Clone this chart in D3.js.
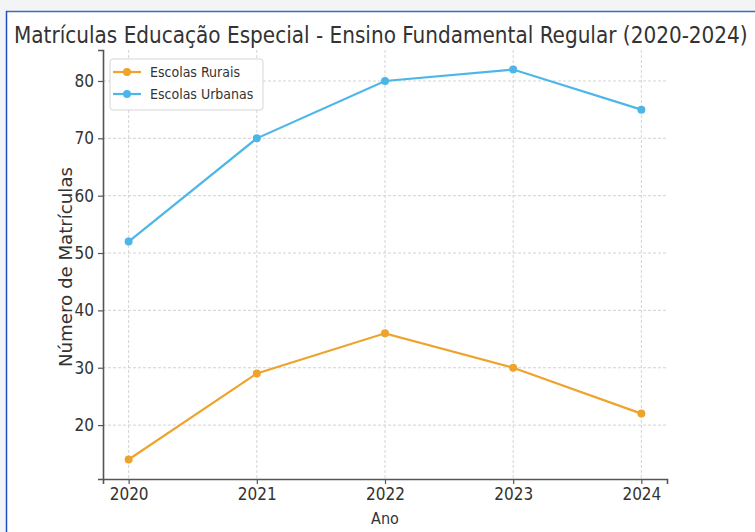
<!DOCTYPE html>
<html><head><meta charset="utf-8">
<script src="https://cdn.jsdelivr.net/npm/d3@7"></script>
<style>html,body{margin:0;padding:0;background:#fff;}svg{display:block;}</style>
</head><body>
<svg id="chart" width="755" height="532"></svg>
<script>
const years = [2020, 2021, 2022, 2023, 2024];
const rurais = [14, 29, 36, 30, 22];
const urbanas = [52, 70, 80, 82, 75];
const yTicks = [20, 30, 40, 50, 60, 70, 80];
const seriesNames = ["Escolas Rurais", "Escolas Urbanas"];
const seriesColors = ["#EDA32C", "#4DB6E9"];
const title = "Matrículas Educação Especial - Ensino Fundamental Regular (2020-2024)";

const svg = d3.select("#chart");
const W = 755, H = 532;
// page frame
svg.append("rect").attr("width", W).attr("height", H).attr("fill", "#f3f4f5");
svg.append("rect").attr("x", 7).attr("y", 12).attr("width", W - 7).attr("height", H - 12).attr("fill", "#fff");
svg.append("line").attr("x1", 6).attr("x2", W).attr("y1", 11.5).attr("y2", 11.5).attr("stroke", "#3d6bc4").attr("stroke-width", 1.5);
svg.append("line").attr("x1", 6.5).attr("x2", 6.5).attr("y1", 11).attr("y2", H).attr("stroke", "#1f4fc0").attr("stroke-width", 1.5);

const m = {l: 103, r: 667, t: 50, b: 479};
const x = d3.scaleLinear().domain([2019.8, 2024.2]).range([m.l, m.r]);
const y = d3.scaleLinear().domain([10.6, 85.4]).range([m.b, m.t]);

const fontC = "'DejaVu Sans Condensed', 'DejaVu Sans', sans-serif";
const textCol = "#333";

// grid
const g = svg.append("g");
g.selectAll(".vg").data(years).join("line")
  .attr("x1", d => x(d)).attr("x2", d => x(d)).attr("y1", m.t).attr("y2", m.b)
  .attr("stroke", "#c8c8c8").attr("stroke-width", 0.8).attr("stroke-dasharray", "3,2");
g.selectAll(".hg").data(yTicks).join("line")
  .attr("x1", m.l).attr("x2", m.r).attr("y1", d => y(d)).attr("y2", d => y(d))
  .attr("stroke", "#c8c8c8").attr("stroke-width", 0.8).attr("stroke-dasharray", "3,2");

// axes
const xAxis = svg.append("g").attr("transform", `translate(0,${m.b})`)
  .call(d3.axisBottom(x).tickValues(years).tickFormat(d3.format("d")).tickSizeOuter(0).tickSize(5).tickPadding(4));
const yAxis = svg.append("g").attr("transform", `translate(${m.l},0)`)
  .call(d3.axisLeft(y).tickValues(yTicks).tickSizeOuter(0).tickSize(5).tickPadding(4));
[xAxis, yAxis].forEach(a => {
  a.select(".domain").attr("stroke", "#555").attr("stroke-width", 1.6);
  a.selectAll(".tick line").attr("stroke", "#555").attr("stroke-width", 1.2);
  a.selectAll(".tick text").attr("font-family", fontC).attr("font-size", 17).attr("fill", textCol);
});

// lines
const series = [rurais, urbanas];
series.forEach((vals, i) => {
  const data = years.map((yr, j) => ({x: yr, y: vals[j]}));
  svg.append("path").datum(data)
    .attr("d", d3.line().x(d => x(d.x)).y(d => y(d.y)))
    .attr("fill", "none").attr("stroke", seriesColors[i]).attr("stroke-width", 2.2);
  svg.selectAll(".pt" + i).data(data).join("circle")
    .attr("cx", d => x(d.x)).attr("cy", d => y(d.y)).attr("r", 4)
    .attr("fill", seriesColors[i]);
});

// labels
const t = svg.append("text").attr("x", 14).attr("y", 43).attr("font-family", fontC).attr("font-size", 25)
  .attr("fill", textCol).text(title);
// fit title to the width the reference occupies
const tw = t.node().getComputedTextLength();
t.attr("font-size", 25 * Math.min(1, 734 / tw));
svg.append("text").attr("x", x(2022)).attr("y", 524).attr("text-anchor", "middle")
  .attr("font-family", fontC).attr("font-size", 16).attr("fill", textCol).text("Ano");
svg.append("text").attr("transform", `translate(72,267) rotate(-90)`).attr("text-anchor", "middle")
  .attr("font-family", fontC).attr("font-size", 17).attr("fill", textCol)
  .attr("textLength", 200).attr("lengthAdjust", "spacingAndGlyphs").text("Número de Matrículas");

// legend
const lg = svg.append("g");
lg.append("rect").attr("x", 110).attr("y", 59).attr("width", 153).attr("height", 51).attr("rx", 3)
  .attr("fill", "#fff").attr("fill-opacity", 0.85).attr("stroke", "#d5d5d5");
seriesNames.forEach((n, i) => {
  const yy = 72 + i * 22;
  lg.append("line").attr("x1", 113).attr("x2", 141).attr("y1", yy).attr("y2", yy)
    .attr("stroke", seriesColors[i]).attr("stroke-width", 2.2);
  lg.append("circle").attr("cx", 127).attr("cy", yy).attr("r", 4).attr("fill", seriesColors[i]);
  lg.append("text").attr("x", 150).attr("y", yy + 5).attr("font-family", fontC).attr("font-size", 14)
    .attr("fill", textCol).text(n);
});
</script>
</body></html>
